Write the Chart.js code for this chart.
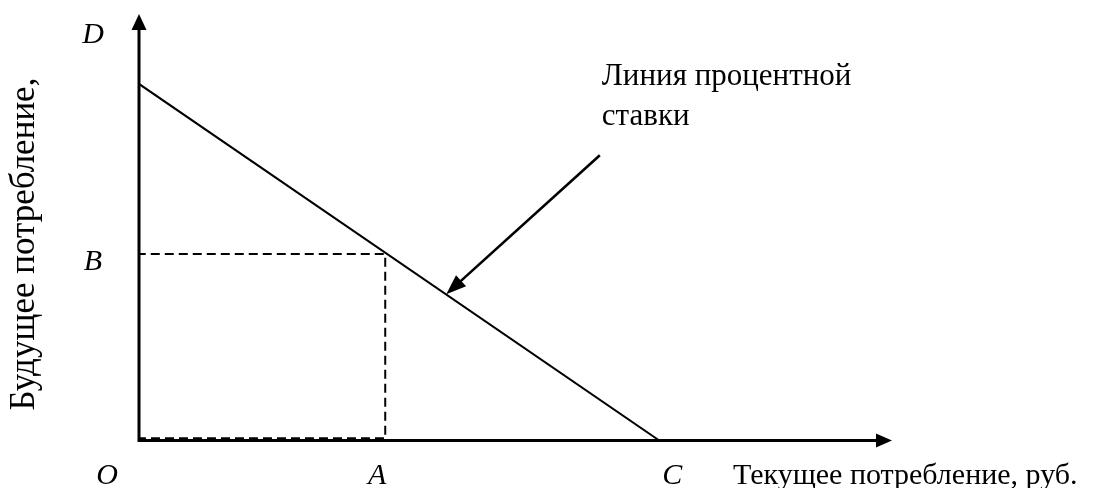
<!DOCTYPE html>
<html>
<head>
<meta charset="utf-8">
<script src="https://cdn.jsdelivr.net/npm/chart.js@4"></script>
<style>
  html, body { margin: 0; padding: 0; background: #fff; }
  #wrap { width: 1099px; height: 488px; }
</style>
</head>
<body>
<div id="wrap"><canvas id="chart"></canvas></div>
<script>
// points on the axes (in chart units)
const xNames = ['O', 'A', 'C'];
const xValues = [0, 32.7, 69.1];
const yNames = ['B', 'D'];
const yValues = [43.7, 83.6];
// annotation arrow, from text to the line
const arrowFrom = [61.2, 66.9];
const arrowTo = [40.8, 34.3];
const noteLines = ['Линия процентной', 'ставки'];
const xTitle = 'Текущее потребление, руб.';
const yTitle = 'Будущее потребление,';

const A = xValues[1], C = xValues[2];
const B = yValues[0], D = yValues[1];

const serif = '"Liberation Serif", "Times New Roman", serif';

function arrowHead(ctx, x1, y1, x2, y2, len, half) {
  const a = Math.atan2(y2 - y1, x2 - x1);
  ctx.beginPath();
  ctx.moveTo(x2, y2);
  ctx.lineTo(x2 - len * Math.cos(a) + half * Math.sin(a), y2 - len * Math.sin(a) - half * Math.cos(a));
  ctx.lineTo(x2 - len * Math.cos(a) - half * Math.sin(a), y2 - len * Math.sin(a) + half * Math.cos(a));
  ctx.closePath();
  ctx.fill();
}

const decorations = {
  id: 'decorations',
  afterDatasetsDraw(chart) {
    const ctx = chart.ctx;
    const xs = chart.scales.x, ys = chart.scales.y;
    const x0 = xs.getPixelForValue(0), y0 = ys.getPixelForValue(0);
    const xEnd = xs.getPixelForValue(xs.max), yEnd = ys.getPixelForValue(ys.max);
    ctx.save();
    ctx.strokeStyle = '#000';
    ctx.fillStyle = '#000';
    ctx.lineWidth = 3;
    ctx.setLineDash([]);
    // axes
    ctx.beginPath();
    ctx.moveTo(x0 - 1.5, y0); ctx.lineTo(xEnd - 10, y0);
    ctx.moveTo(x0, y0 + 1.5); ctx.lineTo(x0, yEnd + 10);
    ctx.stroke();
    arrowHead(ctx, x0, y0, xEnd, y0, 16, 7);
    arrowHead(ctx, x0, y0, x0, yEnd, 16, 7.5);

    // annotation arrow
    const ax1 = xs.getPixelForValue(arrowFrom[0]), ay1 = ys.getPixelForValue(arrowFrom[1]);
    const ax2 = xs.getPixelForValue(arrowTo[0]), ay2 = ys.getPixelForValue(arrowTo[1]);
    const ang = Math.atan2(ay2 - ay1, ax2 - ax1);
    ctx.lineWidth = 2.6;
    ctx.beginPath();
    ctx.moveTo(ax1, ay1);
    ctx.lineTo(ax2 - 12 * Math.cos(ang), ay2 - 12 * Math.sin(ang));
    ctx.stroke();
    arrowHead(ctx, ax1, ay1, ax2, ay2, 20, 7.5);

    // letters
    ctx.font = 'italic 30px ' + serif;
    ctx.textBaseline = 'alphabetic';
    ctx.textAlign = 'center';
    const xOff = [-32, -8, 13];
    xNames.forEach((n, i) => {
      ctx.fillText(n, xs.getPixelForValue(xValues[i]) + xOff[i], 484);
    });
    yNames.forEach((n, i) => {
      const py = n === 'D' ? 43 : ys.getPixelForValue(yValues[i]) + 16;
      ctx.fillText(n, x0 - 46, py);
    });

    // titles
    ctx.textAlign = 'left';
    ctx.font = '30px ' + serif;
    ctx.fillText(xTitle, 733, 484);
    ctx.font = '31px ' + serif;
    ctx.fillText(noteLines[0], ax1 + 2, ay1 - 70);
    ctx.fillText(noteLines[1], ax1 + 2, ay1 - 30);

    ctx.font = '35px ' + serif;
    ctx.translate(34, 244);
    ctx.rotate(-Math.PI / 2);
    ctx.textAlign = 'center';
    ctx.fillText(yTitle, 0, 0);
    ctx.restore();
  }
};

new Chart(document.getElementById('chart'), {
  type: 'scatter',
  data: {
    datasets: [
      {
        label: 'Линия процентной ставки',
        data: [{ x: 0, y: D }, { x: C, y: 0 }],
        showLine: true,
        borderColor: '#000',
        borderWidth: 2,
        pointRadius: 0
      },
      {
        label: 'AB',
        data: [{ x: 0, y: 0.5 }, { x: 0, y: B }, { x: A, y: B }, { x: A, y: 0.5 }, { x: 0, y: 0.5 }],
        showLine: true,
        borderColor: '#000',
        borderWidth: 2,
        borderDash: [9, 5],
        pointRadius: 0
      }
    ]
  },
  options: {
    responsive: true,
    maintainAspectRatio: false,
    animation: false,
    events: [],
    layout: { padding: { left: 139, right: 207, top: 14, bottom: 47.5 } },
    plugins: { legend: { display: false }, tooltip: { enabled: false } },
    scales: {
      x: { type: 'linear', min: 0, max: 100, display: false },
      y: { type: 'linear', min: 0, max: 100, display: false }
    }
  },
  plugins: [decorations]
});
</script>
</body>
</html>
